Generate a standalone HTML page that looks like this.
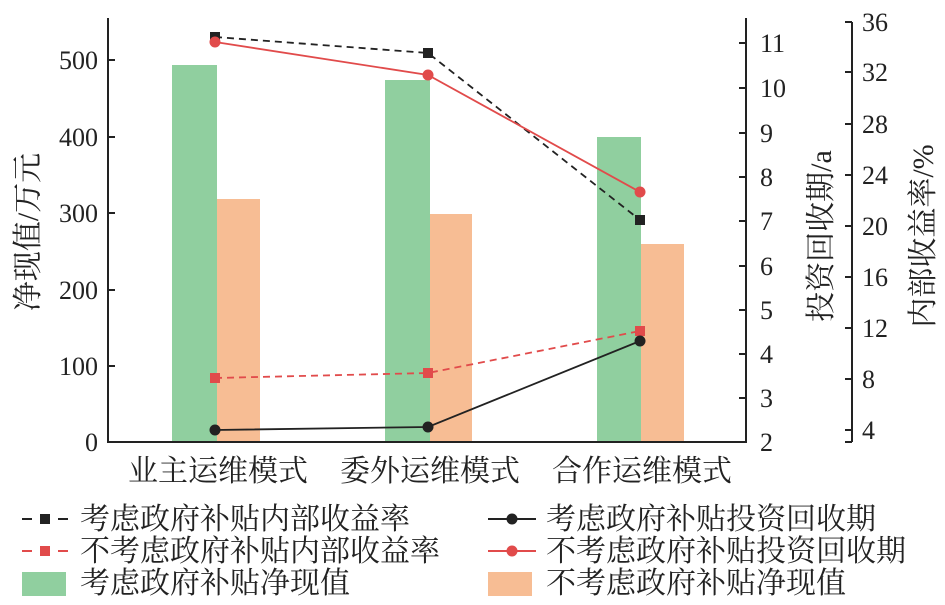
<!DOCTYPE html>
<html><head><meta charset="utf-8"><style>
html,body{margin:0;padding:0;background:#fff;}
svg{display:block;}
text{font-family:"Liberation Serif","Noto Serif CJK SC",serif;fill:#222;}
</style></head><body>
<svg width="945" height="605" viewBox="0 0 945 605" xmlns="http://www.w3.org/2000/svg">
<rect x="172" y="65" width="45" height="377" fill="#90cf9f"/>
<rect x="217" y="199" width="43" height="243" fill="#f7bd94"/>
<rect x="385" y="80" width="45" height="362" fill="#90cf9f"/>
<rect x="430" y="214" width="42" height="228" fill="#f7bd94"/>
<rect x="597" y="137" width="44" height="305" fill="#90cf9f"/>
<rect x="641" y="244" width="43" height="198" fill="#f7bd94"/>
<g stroke="#222" stroke-width="2" fill="none">
<path d="M108 18 V442 H746 V18"/>
<path d="M108 60 h7 M108 137 h7 M108 213 h7 M108 290 h7 M108 366 h7"/>
<path d="M746 43 h-7 M746 88 h-7 M746 133 h-7 M746 177 h-7 M746 221 h-7 M746 266 h-7 M746 310 h-7 M746 354 h-7 M746 398 h-7"/>
<path d="M852 22 V442 M852 22 h-7 M852 72 h-7 M852 124 h-7 M852 175 h-7 M852 226 h-7 M852 277 h-7 M852 328 h-7 M852 379 h-7 M852 430 h-7 M852 442 h-7"/>
</g>
<g font-size="26" text-anchor="end">
<text x="98" y="69">500</text><text x="98" y="146">400</text><text x="98" y="222">300</text>
<text x="98" y="299">200</text><text x="98" y="375">100</text><text x="98" y="451">0</text>
</g>
<g font-size="26">
<text x="760" y="52">11</text><text x="760" y="97">10</text><text x="760" y="142">9</text>
<text x="760" y="186">8</text><text x="760" y="230">7</text><text x="760" y="275">6</text>
<text x="760" y="319">5</text><text x="760" y="363">4</text><text x="760" y="407">3</text><text x="760" y="451">2</text>
<text x="862" y="31">36</text><text x="862" y="81">32</text><text x="862" y="133">28</text>
<text x="862" y="184">24</text><text x="862" y="235">20</text><text x="862" y="286">16</text>
<text x="862" y="337">12</text><text x="862" y="388">8</text><text x="862" y="439">4</text>
</g>
<text font-size="30" transform="translate(38,232) rotate(-90)" text-anchor="middle">净现值/万元</text>
<text font-size="30" transform="translate(831,236) rotate(-90)" text-anchor="middle">投资回收期/a</text>
<text font-size="30" transform="translate(933,236) rotate(-90)" text-anchor="middle">内部收益率/%</text>
<g font-size="30" text-anchor="middle">
<text x="218" y="481">业主运维模式</text><text x="430" y="481">委外运维模式</text><text x="642" y="481">合作运维模式</text>
</g>
<polyline points="215,37 428,53 640,220" fill="none" stroke="#222" stroke-width="1.8" stroke-dasharray="7,5"/>
<g fill="#222"><rect x="210" y="32" width="10" height="10"/><rect x="423" y="48" width="10" height="10"/><rect x="635" y="215" width="10" height="10"/></g>
<polyline points="215,42 428,75 640,192" fill="none" stroke="#e14b4b" stroke-width="1.8"/>
<g fill="#e14b4b"><circle cx="215" cy="42" r="5.5"/><circle cx="428" cy="75" r="5.5"/><circle cx="640" cy="192" r="5.5"/></g>
<polyline points="215,378 428,373 640,331" fill="none" stroke="#e14b4b" stroke-width="1.8" stroke-dasharray="7,5"/>
<g fill="#e14b4b"><rect x="210" y="373" width="10" height="10"/><rect x="423" y="368" width="10" height="10"/><rect x="635" y="326" width="10" height="10"/></g>
<polyline points="215,430 428,427 640,341" fill="none" stroke="#222" stroke-width="1.8"/>
<g fill="#222"><circle cx="215" cy="430" r="5.5"/><circle cx="428" cy="427" r="5.5"/><circle cx="640" cy="341" r="5.5"/></g>
<g font-size="30">
<path d="M22 519 h10 M58 519 h10" stroke="#222" stroke-width="2"/><rect x="40" y="514" width="10" height="10" fill="#222"/>
<text x="80" y="529">考虑政府补贴内部收益率</text>
<path d="M22 551 h10 M58 551 h10" stroke="#e14b4b" stroke-width="2"/><rect x="40" y="546" width="10" height="10" fill="#e14b4b"/>
<text x="80" y="561">不考虑政府补贴内部收益率</text>
<rect x="22" y="572" width="44" height="24" fill="#90cf9f"/>
<text x="80" y="593">考虑政府补贴净现值</text>
<path d="M488 519 h48" stroke="#222" stroke-width="2"/><circle cx="512" cy="519" r="5.5" fill="#222"/>
<text x="546" y="529">考虑政府补贴投资回收期</text>
<path d="M488 551 h48" stroke="#e14b4b" stroke-width="2"/><circle cx="512" cy="551" r="5.5" fill="#e14b4b"/>
<text x="546" y="561">不考虑政府补贴投资回收期</text>
<rect x="488" y="572" width="44" height="24" fill="#f7bd94"/>
<text x="546" y="593">不考虑政府补贴净现值</text>
</g>
</svg>
</body></html>
